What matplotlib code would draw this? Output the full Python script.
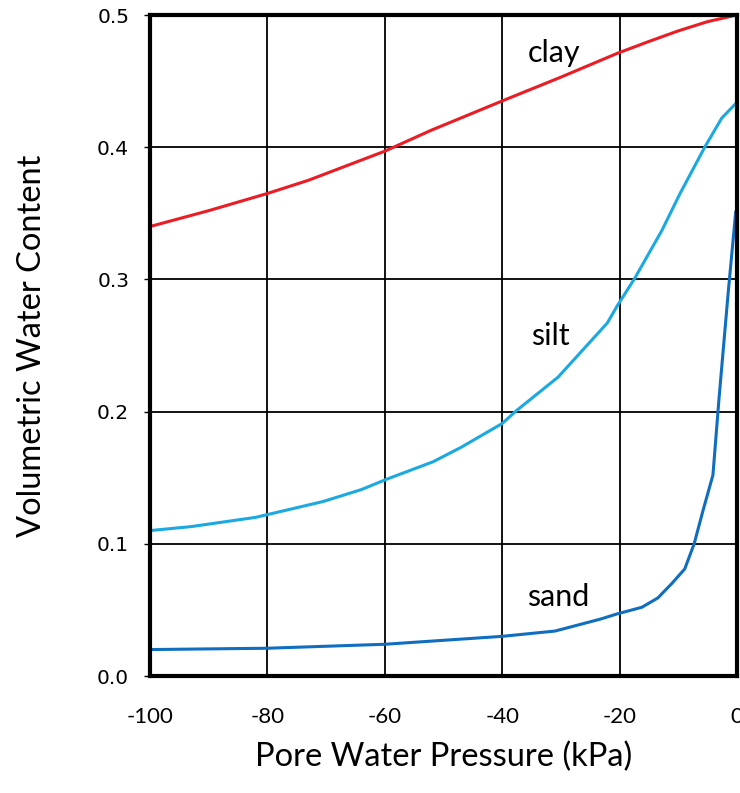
import matplotlib.pyplot as plt
from matplotlib.ticker import FormatStrFormatter

plt.rcParams['axes.unicode_minus'] = False

# soil water retention curves (pore pressure in kPa, volumetric water content)
clay_x = [-100, -90, -80, -73, -60, -52, -40, -30, -20.4, -15, -10, -5, 0]
clay_y = [0.340, 0.352, 0.365, 0.375, 0.397, 0.413, 0.435, 0.453, 0.471, 0.480, 0.488, 0.495, 0.500]

silt_x = [-100, -93, -82, -70.5, -64, -59.6, -51.8, -47, -40, -37.5, -30.5, -22.1, -20.4,
          -17.4, -12.8, -9.7, -5.5, -2.6, 0]
silt_y = [0.110, 0.113, 0.120, 0.132, 0.141, 0.149, 0.162, 0.173, 0.191, 0.201, 0.226,
          0.267, 0.280, 0.301, 0.337, 0.365, 0.400, 0.422, 0.434]

sand_x = [-100, -80, -60, -40, -31, -23.3, -20.4, -16.2, -13.5, -11.1, -8.9, -7.3, -5.8, -4.1,
          -3.1, -1.5, -0.2]
sand_y = [0.020, 0.021, 0.024, 0.030, 0.034, 0.043, 0.047, 0.052, 0.059, 0.070, 0.081, 0.100,
          0.125, 0.152, 0.208, 0.290, 0.352]

xticks = [-100, -80, -60, -40, -20, 0]
yticks = [0.0, 0.1, 0.2, 0.3, 0.4, 0.5]

fig = plt.figure(figsize=(7.4, 7.93), dpi=100)
ax = fig.add_axes([150 / 740, 117 / 793, 587 / 740, 661 / 793])

ax.plot(clay_x, clay_y, color='#ED1C24', lw=2.2, solid_capstyle='butt', zorder=3)
ax.plot(silt_x, silt_y, color='#1BA9E1', lw=2.2, solid_capstyle='butt', zorder=3)
ax.plot(sand_x, sand_y, color='#0F6EC0', lw=2.2, solid_capstyle='butt', zorder=3)

ax.text(-31.2, 0.471, 'clay', fontsize=22, family='Lato', ha='center', va='center')
ax.text(-31.8, 0.257, 'silt', fontsize=22, family='Lato', ha='center', va='center')
ax.text(-30.5, 0.060, 'sand', fontsize=22, family='Lato', ha='center', va='center')

ax.set_xlim(-100, 0)
ax.set_ylim(0, 0.5)
ax.set_xticks(xticks)
ax.set_yticks(yticks)
ax.yaxis.set_major_formatter(FormatStrFormatter('%.1f'))
ax.grid(True, color='black', lw=1.3)
ax.set_axisbelow(True)

for s in ax.spines.values():
    s.set_linewidth(3)
    s.set_zorder(4)

ax.tick_params(axis='x', length=0, pad=22, labelsize=16)
for lab in ax.get_xticklabels():
    lab.set_family('Lato')
ax.tick_params(axis='y', length=4, width=1, pad=11, labelsize=14.5)
for lab in ax.get_yticklabels():
    lab.set_family('DejaVu Sans')

ax.set_xlabel('Pore Water Pressure (kPa)', family='Lato', fontsize=23.5, labelpad=11)
ax.set_ylabel('Volumetric Water Content', family='Lato', fontsize=23.5, labelpad=36)

fig.savefig('out.png', dpi=100)
